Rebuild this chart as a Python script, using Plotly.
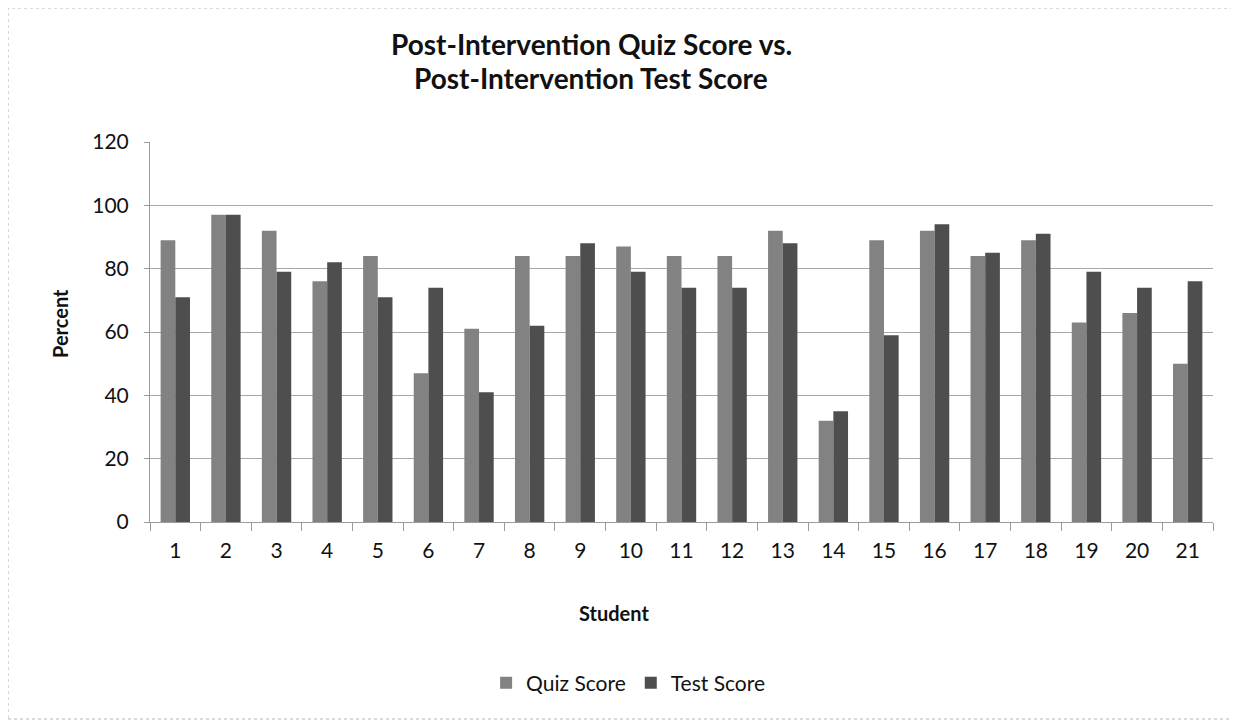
import plotly.graph_objects as go

students = [str(i) for i in range(1, 22)]
quiz_score = [89, 97, 92, 76, 84, 47, 61, 84, 84, 87, 84, 84, 92, 32, 89, 92, 84, 89, 63, 66, 50]
test_score = [71, 97, 79, 82, 71, 74, 41, 62, 88, 79, 74, 74, 88, 35, 59, 94, 85, 91, 79, 74, 76]
title_lines = ["Post-Intervention Quiz Score vs.", "Post-Intervention Test Score"]

W, H = 1239, 721
L, R, T, B = 142, 34, 134, 207
FONT = "Lato"
pw, ph = W - L - R, H - T - B


def px(x):  # figure pixel -> paper x
    return (x - L) / pw


def py(y):  # figure pixel (from top) -> paper y
    return (H - B - y) / ph


fig = go.Figure()
fig.add_trace(go.Bar(x=students, y=quiz_score, name="Quiz Score",
                     marker=dict(color="#828282", line=dict(width=0))))
fig.add_trace(go.Bar(x=students, y=test_score, name="Test Score",
                     marker=dict(color="#4e4e4e", line=dict(width=0))))

fig.update_layout(
    width=W, height=H,
    margin=dict(l=L, r=R, t=T, b=B, autoexpand=False),
    paper_bgcolor="white", plot_bgcolor="white",
    font=dict(family=FONT, color="#111111", size=21),
    barmode="group", bargap=0.42, bargroupgap=0.0,
    showlegend=True,
    legend=dict(orientation="h", x=0.5005, xanchor="center", xref="container",
                y=py(675), yanchor="middle", font=dict(size=21),
                traceorder="normal", itemwidth=30),
    xaxis=dict(
        type="category", automargin=False, tickangle=0,
        showline=True, linecolor="#9a9a9a", linewidth=1,
        ticks="outside", tickson="boundaries", ticklen=8, tickcolor="#9a9a9a",
        showgrid=False, ticklabelstandoff=10,
        tickfont=dict(size=21),
    ),
    yaxis=dict(
        range=[0, 120], dtick=20, automargin=False,
        showline=True, linecolor="#9a9a9a", linewidth=1,
        ticks="outside", ticklen=5, tickcolor="#9a9a9a",
        showgrid=True, gridcolor="#a8a8a8", gridwidth=1,
        zeroline=False, ticklabelstandoff=11,
        tickfont=dict(size=21),
    ),
)

# two-line bold title, one annotation per line
for line, ymid in zip(title_lines, [36, 70]):
    fig.add_annotation(text="<b>%s</b>" % line, xref="paper", yref="paper",
                       x=px(583), y=py(ymid), xanchor="center", yanchor="middle",
                       showarrow=False, font=dict(size=28, color="#111111"))

# axis titles
fig.add_annotation(text="<b>Student</b>", xref="paper", yref="paper",
                   x=px(606), y=py(605), xanchor="center", yanchor="middle",
                   showarrow=False, font=dict(size=20))
fig.add_annotation(text="<b>Percent</b>", xref="paper", yref="paper",
                   x=px(52), y=py(316), xanchor="center", yanchor="middle",
                   textangle=-90, showarrow=False, font=dict(size=20))

# light dotted border round the whole chart
fig.add_shape(type="rect", xref="paper", yref="paper",
              x0=px(0), x1=px(W - 10), y0=py(H - 10), y1=py(0),
              line=dict(color="#b5b5b5", width=1, dash="dot"))

fig.write_html("out.html")
